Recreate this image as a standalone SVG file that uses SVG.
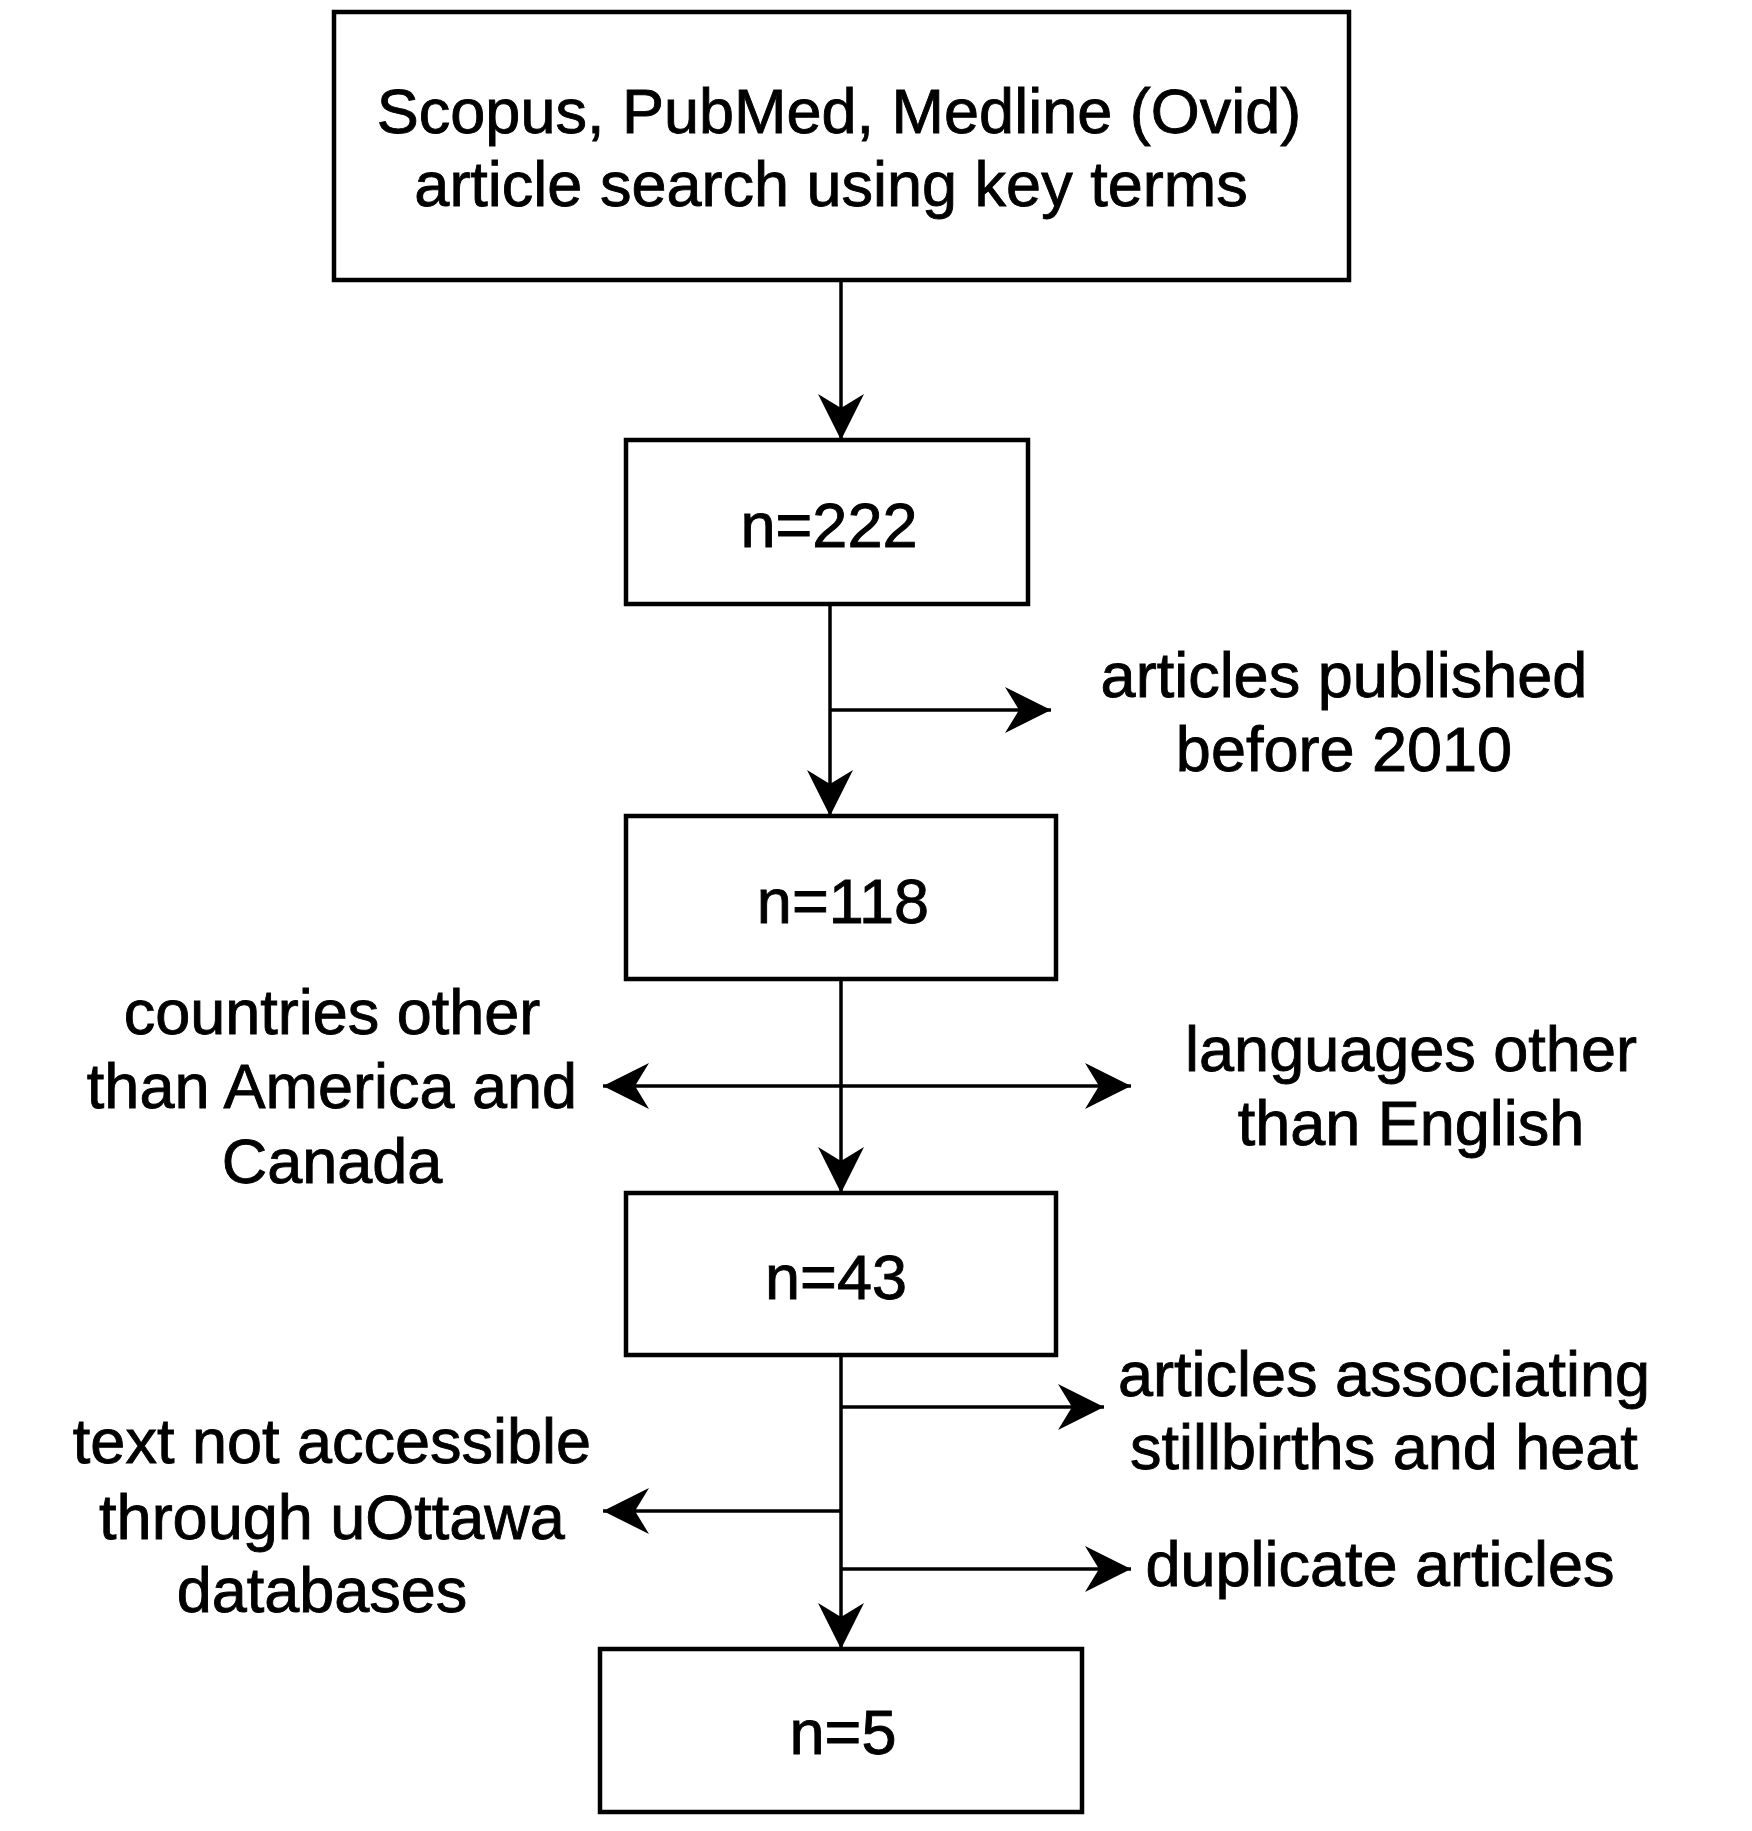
<svg xmlns="http://www.w3.org/2000/svg" width="1752" height="1831" viewBox="0 0 1752 1831">
  <style>
    .box { fill: #ffffff; stroke: #000000; stroke-width: 4.5; }
    .line { fill: none; stroke: #000000; stroke-width: 3.5; }
    text { font-family: "Liberation Sans", Arial, Helvetica, sans-serif; font-size: 63px; fill: #000000; stroke: #000000; stroke-width: 0.9; text-anchor: middle; }
  </style>
  <defs>
    <marker id="arrow" markerUnits="userSpaceOnUse" viewBox="-48 -25 50 50" refX="0" refY="0" markerWidth="50" markerHeight="50" orient="auto-start-reverse">
      <path d="M0,0 L-46,-23 L-32,0 L-46,23 Z" fill="#000000"/>
    </marker>
  </defs>
  <rect width="1752" height="1831" fill="#ffffff"/>

  <g id="connectors">
    <line class="line" x1="841" y1="280" x2="841" y2="440" marker-end="url(#arrow)"/>
    <line class="line" x1="830" y1="604" x2="830" y2="816" marker-end="url(#arrow)"/>
    <line class="line" x1="830" y1="710" x2="1051" y2="710" marker-end="url(#arrow)"/>
    <line class="line" x1="841" y1="979" x2="841" y2="1193" marker-end="url(#arrow)"/>
    <line class="line" x1="603" y1="1086" x2="1131" y2="1086" marker-start="url(#arrow)" marker-end="url(#arrow)"/>
    <line class="line" x1="841" y1="1355" x2="841" y2="1649" marker-end="url(#arrow)"/>
    <line class="line" x1="841" y1="1407" x2="1104" y2="1407" marker-end="url(#arrow)"/>
    <line class="line" x1="841" y1="1511" x2="603" y2="1511" marker-end="url(#arrow)"/>
    <line class="line" x1="841" y1="1569" x2="1131" y2="1569" marker-end="url(#arrow)"/>
  </g>

  <g id="node-search">
    <rect class="box" x="334" y="12" width="1015" height="268"/>
    <text x="839" y="133">Scopus, PubMed, Medline (Ovid)</text>
    <text x="831" y="206">article search using key terms</text>
  </g>

  <g id="node-222">
    <rect class="box" x="626" y="440" width="402" height="164"/>
    <text x="829" y="547">n=222</text>
  </g>

  <g id="node-118">
    <rect class="box" x="626" y="816" width="430" height="163"/>
    <text x="843" y="923">n=118</text>
  </g>

  <g id="node-43">
    <rect class="box" x="626" y="1193" width="430" height="162"/>
    <text x="836" y="1299">n=43</text>
  </g>

  <g id="node-5">
    <rect class="box" x="600" y="1649" width="482" height="163"/>
    <text x="843" y="1754">n=5</text>
  </g>

  <g id="label-published">
    <text x="1344" y="697">articles published</text>
    <text x="1344" y="771">before 2010</text>
  </g>

  <g id="label-countries">
    <text x="332" y="1034">countries other</text>
    <text x="332" y="1108">than America and</text>
    <text x="332" y="1183">Canada</text>
  </g>

  <g id="label-languages">
    <text x="1411" y="1071">languages other</text>
    <text x="1411" y="1145">than English</text>
  </g>

  <g id="label-associating">
    <text x="1384" y="1396">articles associating</text>
    <text x="1384" y="1469">stillbirths and heat</text>
  </g>

  <g id="label-access">
    <text x="332" y="1463">text not accessible</text>
    <text x="332" y="1539">through uOttawa</text>
    <text x="322" y="1612">databases</text>
  </g>

  <g id="label-duplicate">
    <text x="1380" y="1586">duplicate articles</text>
  </g>
</svg>
